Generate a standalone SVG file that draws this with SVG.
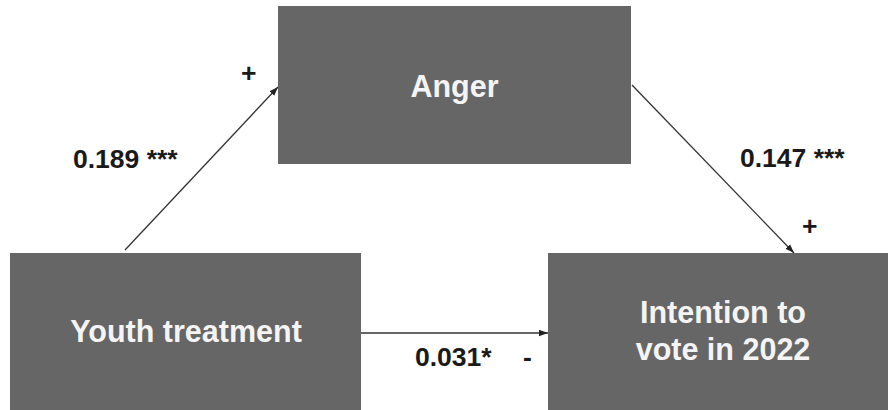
<svg xmlns="http://www.w3.org/2000/svg" width="888" height="410" viewBox="0 0 888 410">
  <style>
    .box { fill: #666666; }
    .node-text { font-family: "Liberation Sans", Arial, sans-serif; font-weight: bold; font-size: 30.5px; fill: #f4f4f4; text-anchor: middle; }
    .label { font-family: "Liberation Sans", Arial, sans-serif; font-weight: bold; font-size: 26.5px; fill: #1a1a1a; }
    .edge { stroke: #333333; stroke-width: 1.3; fill: none; marker-end: url(#arrow); }
  </style>
  <defs>
    <marker id="arrow" markerUnits="userSpaceOnUse" markerWidth="10" markerHeight="8" refX="9" refY="4" orient="auto">
      <path d="M0,0.8 L9,4 L0,7.2 Z" fill="#222222"/>
    </marker>
  </defs>

  <rect width="888" height="410" fill="#ffffff"/>

  <g id="anger">
    <rect class="box" x="278" y="6" width="353" height="158"/>
    <text class="node-text" x="454.5" y="97">Anger</text>
  </g>

  <g id="youth-treatment">
    <rect class="box" x="10" y="253" width="351" height="170"/>
    <text class="node-text" x="186" y="342">Youth treatment</text>
  </g>

  <g id="intention-to-vote">
    <rect class="box" x="548" y="253" width="350" height="170"/>
    <text class="node-text" x="723" y="323">Intention to</text>
    <text class="node-text" x="723" y="360">vote in 2022</text>
  </g>

  <g id="connectors">
    <line class="edge" x1="125" y1="250" x2="278" y2="87"/>
    <line class="edge" x1="632" y1="85" x2="794" y2="253"/>
    <line class="edge" x1="361" y1="333" x2="548" y2="333"/>
  </g>

  <g id="labels">
    <text class="label" x="241" y="82">+</text>
    <text class="label" x="73" y="168">0.189 ***</text>
    <text class="label" x="740" y="167">0.147 ***</text>
    <text class="label" x="802" y="235">+</text>
    <text class="label" x="415" y="366">0.031*</text>
    <text class="label" x="523" y="366">-</text>
  </g>
</svg>
